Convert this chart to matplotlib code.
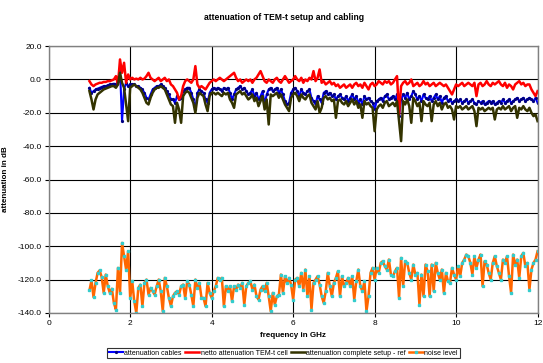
import numpy as np
import matplotlib
matplotlib.use('Agg')
import matplotlib.pyplot as plt
from matplotlib.ticker import FormatStrFormatter

plt.rcParams['font.family'] = ['Liberation Sans', 'DejaVu Sans']

# frequency grid in GHz (1.00 ... 12.00, 0.05 GHz steps)
freq = np.round(np.arange(1.0, 12.001, 0.05), 2)

# values, one row per GHz
cables = [
    -5, -8, -7, -6, -5.5, -5, -4.5, -4, -4, -3.5, -3, -3, -2.5, -3, -1, 6, -25, -6, -2, -4,
    -3, -3, -3, -4, -4, -5, -6, -8, -11, -12, -9, -6, -5, -4, -4, -3, -4, -5, -7, -9,
    -12, -12, -14, -10, -12, -11, -7, -6, -5, -5, -8, -12, -18, -8, -6, -7, -8, -12, -14, -8,
    -6, -5, -6, -5, -6, -7, -5, -6, -5, -8, -12, -9, -6, -5, -4, -6, -5, -7, -9, -8,
    -6, -10, -8, -12, -10, -7, -15, -9, -6, -5, -7, -6, -5, -8, -6, -9, -13, -15, -14, -8,
    -6, -5, -7, -10, -6, -8, -9, -7, -6, -11, -13, -15, -10, -12, -14, -8, -7, -9, -8, -10,
    -9, -12, -10, -9, -11, -12, -10, -13, -11, -9, -12, -10, -14, -12, -15, -10, -12, -11, -13, -14,
    -18, -13, -12, -11, -13, -10, -9, -12, -11, -10, -12, -9, -22, -12, -9, -11, -8, -12, -10, -7,
    -9, -12, -10, -13, -9, -11, -12, -10, -13, -11, -9, -12, -10, -14, -11, -10, -13, -12, -14, -13,
    -12, -13, -12, -14, -13, -12, -14, -13, -12, -14, -15, -13, -14, -13, -15, -14, -13, -14, -13, -15,
    -14, -13, -14, -12, -14, -13, -12, -14, -13, -12, -11, -13, -12, -11, -13, -12, -11, -12, -13, -11,
    -14]

tem_cell = [
    -1, -3, -4, -3, -2.5, -2, -2, -1.5, -1.5, -1, -1, -0.5, 0, 2, -3, 12, 4, 10, -2, 3,
    0, 1, 0, 0.5, 0, 1, 0, 0.5, 2, 4, 1, 0, -1, 0, 1, -1, 0, 1, -1, 0,
    -3, -4, -6, -8, -12, -10, -4, -1, 0, -1, -2, 0, 8, -3, -5, -4, -5, -6, -4, -2,
    -1, 0, -1, 0, 1, 0, -1, 0, 1, 2, 3, 4, 1, -1, 0, -2, -1, 0, -1, 0,
    -2, 0, 1, 3, 5, 2, -1, -2, 0, -1, -2, 0, 1, -1, -2, 0, 2, 0, -2, -1,
    0, 2, 0, -1, 1, -2, 0, -1, 1, 0, 5, -1, 1, 6, -2, -1, -3, -2, -1, -3,
    -2, -4, -3, -5, -4, -3, -5, -4, -3, -5, -3, -2, -4, -3, -5, -2, -4, -6, -3, -2,
    -4, -3, -1, -2, -3, -1, -2, -1, -3, -2, 0, 2, -21, -4, -2, -1, -3, -2, 0, -4,
    -3, -2, -4, -3, -1, -3, -2, -4, -3, -2, -4, -3, -2, -3, -4, -3, -5, -7, -9, -6,
    -3, -4, -3, -2, -4, -3, -2, -3, -4, -2, -10, -3, -2, -4, -3, -1, -3, -4, -2, -3,
    -2, -1, -3, -4, -2, -5, -3, -4, -6, -3, -2, -1, -3, -2, -4, -3, -3, -6, -8, -10,
    -7]

complete = [
    -7, -12, -18, -12, -9, -8, -7, -6, -5.5, -5, -4.5, -4, -4, -5, -3, 4, -2, -5, -15, -25,
    -5, -4, -3, -4, -5, -6, -8, -11, -14, -15, -11, -8, -6, -5, -5, -4, -5, -6, -9, -12,
    -15, -16, -26, -14, -18, -26, -10, -8, -7, -8, -11, -14, -20, -11, -8, -9, -10, -15, -19, -10,
    -8, -8, -9, -8, -9, -10, -8, -9, -8, -12, -14, -17, -9, -8, -7, -9, -8, -10, -12, -11,
    -9, -13, -11, -16, -13, -10, -18, -12, -27, -9, -10, -9, -8, -11, -9, -12, -15, -17, -19, -11,
    -9, -8, -10, -13, -9, -11, -12, -10, -9, -14, -16, -18, -13, -20, -17, -11, -10, -12, -11, -13,
    -12, -23, -13, -12, -14, -15, -13, -16, -14, -12, -15, -13, -17, -15, -23, -13, -15, -14, -16, -17,
    -31, -18, -16, -15, -17, -14, -13, -16, -15, -14, -16, -13, -25, -37, -13, -15, -12, -16, -26, -11,
    -13, -16, -14, -25, -13, -15, -16, -14, -25, -15, -13, -16, -14, -18, -15, -14, -17, -16, -18, -24,
    -16, -17, -16, -18, -17, -16, -18, -17, -16, -19, -28, -17, -18, -17, -19, -18, -17, -18, -17, -24,
    -18, -17, -18, -16, -18, -17, -16, -19, -17, -16, -23, -17, -18, -16, -18, -19, -17, -20, -22, -21,
    -25]

noise = [
    -126.5, -120.5, -130.5, -122, -116, -114.5, -118.5, -128, -117, -124, -128, -125.5, -134, -138, -113, -128, -98, -106, -114, -103,
    -131, -121, -133, -140, -125, -123, -136, -122, -120, -129, -125, -127, -129, -124, -120, -127, -139, -119, -124, -131,
    -136, -130, -128, -127, -129, -124, -123, -131, -121, -123, -129, -136, -120, -125, -122, -131, -131, -136, -122, -128,
    -131, -127, -124, -119, -120, -119, -136, -124, -127, -124, -133, -124, -126, -123, -125, -122, -135, -124, -122, -121,
    -126, -123, -130, -132, -126, -124, -127, -122, -130, -139, -128, -135, -130, -129, -117, -128, -118, -122, -119, -123,
    -132, -120, -119, -124, -116, -126, -114, -130, -118, -138, -122, -120, -118, -123, -130, -134, -127, -116, -124, -130,
    -122, -119, -115, -130, -118, -124, -122, -119, -124, -118, -132, -121, -114, -124, -127, -121, -139, -130, -116, -113,
    -120, -113, -116, -110, -109, -112, -114, -108, -117, -118, -115, -113, -131, -107, -124, -109, -110, -116, -120, -111,
    -117, -116, -135, -117, -130, -111, -115, -130, -111, -127, -110, -116, -120, -114, -128, -116, -121, -122, -113, -117,
    -120, -112, -118, -110, -108, -105, -106, -110, -117, -106, -113, -108, -105, -124, -109, -111, -116, -120, -110, -106,
    -112, -116, -120, -108, -110, -106, -118, -128, -105, -111, -108, -119, -106, -104, -112, -110, -126, -114, -110, -108,
    -103]

labels = ['attenuation cables', 'netto attenuation TEM-t cell',
          'attenuation complete setup - ref', 'noise level']

fig = plt.figure(figsize=(5.43, 3.63), dpi=100)
ax = fig.add_axes([0.0897, 0.138, 0.9003, 0.735])

ax.plot(freq, cables, color='#0000ff', lw=1.5, marker='o', ms=1.3,
        mfc='#000080', mec='#000080', label=labels[0])
ax.plot(freq, tem_cell, color='#ff0000', lw=1.8, label=labels[1])
ax.plot(freq, complete, color='#333300', lw=1.8, label=labels[2])
ax.plot(freq, noise, color='#ff6600', lw=1.8, marker='s', ms=1.6,
        mfc='#33cccc', mec='#33cccc', label=labels[3])

ax.set_xlim(0, 12)
ax.set_ylim(-140, 20)
ax.set_xticks(np.arange(0, 13, 2))
ax.set_yticks(np.arange(-140, 21, 20))
ax.yaxis.set_major_formatter(FormatStrFormatter('%.1f'))
ax.grid(True, color='black', lw=0.8)
ax.set_axisbelow(True)
for s in ax.spines.values():
    s.set_color('#808080')
    s.set_linewidth(1.0)
ax.tick_params(labelsize=6, length=3, width=0.8, color='black', pad=2)

fig.text(0.523, 0.953, 'attenuation of TEM-t setup and cabling',
         ha='center', va='center', fontsize=6.2, fontweight='bold')
ax.set_xlabel('frequency in GHz', fontsize=5.8, fontweight='bold', labelpad=4)
ax.set_ylabel('attenuation in dB', fontsize=5.8, fontweight='bold', labelpad=6)

leg = fig.legend(loc='center', bbox_to_anchor=(0.522, 0.027), ncol=4, fontsize=5,
                 frameon=True, fancybox=False, edgecolor='black', handlelength=2.0,
                 handletextpad=0.2, columnspacing=0.5, borderpad=0.25,
                 borderaxespad=0)
leg.get_frame().set_linewidth(0.8)

fig.savefig('out.png', dpi=100)
